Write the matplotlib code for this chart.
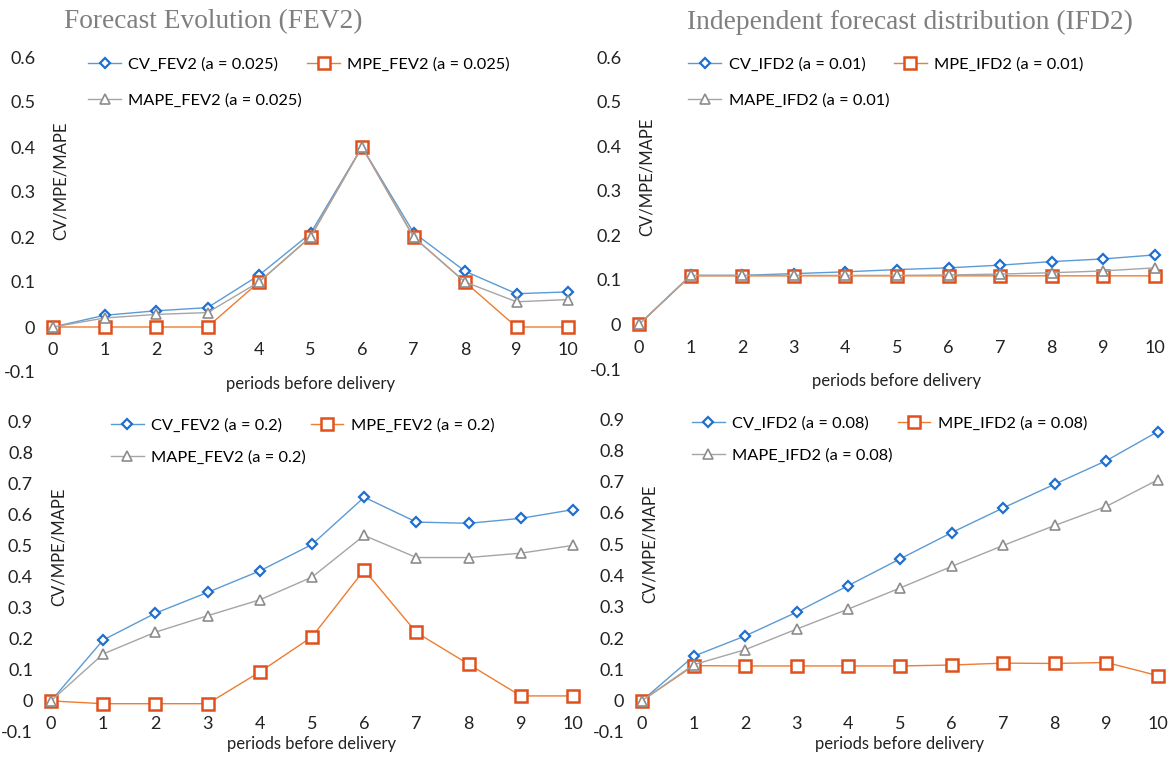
import matplotlib
matplotlib.use("Agg")
import matplotlib.pyplot as plt
import numpy as np

periods = list(range(11))

# Forecast Evolution, a = 0.025
cv_fev_a = [0, 0.026, 0.036, 0.043, 0.115, 0.208, 0.4, 0.21, 0.124, 0.074, 0.078]
mpe_fev_a = [0, 0, 0, 0, 0.1, 0.2, 0.4, 0.2, 0.1, 0, 0]
mape_fev_a = [0, 0.02, 0.028, 0.032, 0.1, 0.2, 0.4, 0.2, 0.1, 0.056, 0.061]

# Independent forecast distribution, a = 0.01
cv_ifd_a = [0, 0.11, 0.11, 0.114, 0.118, 0.123, 0.127, 0.133, 0.141, 0.147, 0.156]
mpe_ifd_a = [0, 0.109, 0.109, 0.109, 0.109, 0.109, 0.109, 0.109, 0.109, 0.109, 0.109]
mape_ifd_a = [0, 0.11, 0.11, 0.11, 0.11, 0.11, 0.111, 0.113, 0.116, 0.12, 0.127]

# Forecast Evolution, a = 0.2
cv_fev_b = [0, 0.196, 0.282, 0.349, 0.418, 0.503, 0.655, 0.575, 0.571, 0.587, 0.615]
mpe_fev_b = [0, -0.009, -0.009, -0.009, 0.093, 0.206, 0.421, 0.22, 0.118, 0.016, 0.016]
mape_fev_b = [0, 0.151, 0.221, 0.274, 0.325, 0.398, 0.532, 0.461, 0.461, 0.475, 0.5]

# Independent forecast distribution, a = 0.08
cv_ifd_b = [0, 0.142, 0.207, 0.283, 0.368, 0.453, 0.537, 0.616, 0.692, 0.767, 0.86]
mpe_ifd_b = [0, 0.112, 0.111, 0.111, 0.111, 0.111, 0.114, 0.12, 0.119, 0.122, 0.08]
mape_ifd_b = [0, 0.115, 0.163, 0.229, 0.293, 0.36, 0.429, 0.496, 0.56, 0.621, 0.706]

panels = [
    # pixel frame (x of period 0, x of period 10, top, bottom), ylim, series, labels,
    # ylabel y, legend anchor
    ((53, 568, 57, 372), (-0.1, 0.6), (cv_fev_a, mpe_fev_a, mape_fev_a),
     ("CV_FEV2 (a = 0.025)", "MPE_FEV2 (a = 0.025)", "MAPE_FEV2 (a = 0.025)"),
     0.606, (0.077, 1.02), 1.3),
    ((639, 1155, 57, 369), (-0.1, 0.6), (cv_ifd_a, mpe_ifd_a, mape_ifd_a),
     ("CV_IFD2 (a = 0.01)", "MPE_IFD2 (a = 0.01)", "MAPE_IFD2 (a = 0.01)"),
     0.615, (0.103, 1.02), 1.3),
    ((51, 573, 421, 732), (-0.1, 0.9), (cv_fev_b, mpe_fev_b, mape_fev_b),
     ("CV_FEV2 (a = 0.2)", "MPE_FEV2 (a = 0.2)", "MAPE_FEV2 (a = 0.2)"),
     0.595, (0.121, 1.03), 1.05),
    ((642, 1158, 419, 732), (-0.1, 0.9), (cv_ifd_b, mpe_ifd_b, mape_ifd_b),
     ("CV_IFD2 (a = 0.08)", "MPE_IFD2 (a = 0.08)", "MAPE_IFD2 (a = 0.08)"),
     0.60, (0.104, 1.03), 1.05),
]

W, H = 1172, 760
plt.rcParams['font.family'] = ['Lato', 'DejaVu Sans']
fig = plt.figure(figsize=(W / 100, H / 100), dpi=100)

pad_x = 0.25
for (x0, x10, yt, yb), ylim, (cv, mpe, mape), (l_cv, l_mpe, l_mape), ylab_y, anchor, lsp in panels:
    unit = (x10 - x0) / 10.0
    left = x0 - pad_x * unit
    width = (10 + 2 * pad_x) * unit
    ax = fig.add_axes([left / W, (H - yb) / H, width / W, (yb - yt) / H])
    ax.set_xlim(-pad_x, 10 + pad_x)
    ax.set_ylim(*ylim)
    h_cv, = ax.plot(periods, cv, color='#5b9bd5', lw=1, marker='D', ms=5.5,
                    mfc='white', mec='#1f6fd1', mew=1.6, label=l_cv)
    h_mpe, = ax.plot(periods, mpe, color='#ed7d31', lw=1, marker='s', ms=9,
                     mfc='white', mec='#e0501c', mew=1.8, label=l_mpe)
    h_mape, = ax.plot(periods, mape, color='#a5a5a5', lw=1, marker='^', ms=7,
                      mfc='white', mec='#8c8c8c', mew=1.2, label=l_mape)
    for s in ax.spines.values():
        s.set_visible(False)
    ax.spines['bottom'].set_position(('data', 0))
    ax.set_xticks(periods)
    ax.set_yticks(np.round(np.arange(ylim[0], ylim[1] + 0.01, 0.1), 1))
    ax.set_yticklabels([f"{v:g}" if v != 0 else "0" for v in ax.get_yticks()])
    ax.tick_params(axis='x', length=0, pad=11, labelsize=13, colors='#222222')
    ax.tick_params(axis='y', length=0, pad=3.5, labelsize=13, colors='#222222')
    ax.set_ylabel("CV/MPE/MAPE", fontsize=12, color='#222222')
    ax.yaxis.set_label_coords((pad_x + 0.3) / (10 + 2 * pad_x), ylab_y)
    ax.set_xlabel("periods before delivery", fontsize=12, color='#222222')
    ax.xaxis.set_label_coords(0.5, -0.012)
    ax.legend([h_cv, h_mape, h_mpe], [l_cv, l_mape, l_mpe], ncol=2,
              loc='upper left', bbox_to_anchor=anchor, frameon=False,
              fontsize=11.8, labelspacing=lsp, handlelength=2.0,
              handletextpad=0.45, columnspacing=0.3, borderaxespad=0)

fig.text(64 / W, 1 - 22 / H, "Forecast Evolution (FEV2)", family='Liberation Serif',
         fontsize=19.7, color='#7f7f7f', va='center', ha='left')
fig.text(687 / W, 1 - 22 / H, "Independent forecast distribution (IFD2)",
         family='Liberation Serif', fontsize=19.7, color='#7f7f7f', va='center', ha='left')

fig.savefig("out.png", dpi=100)
